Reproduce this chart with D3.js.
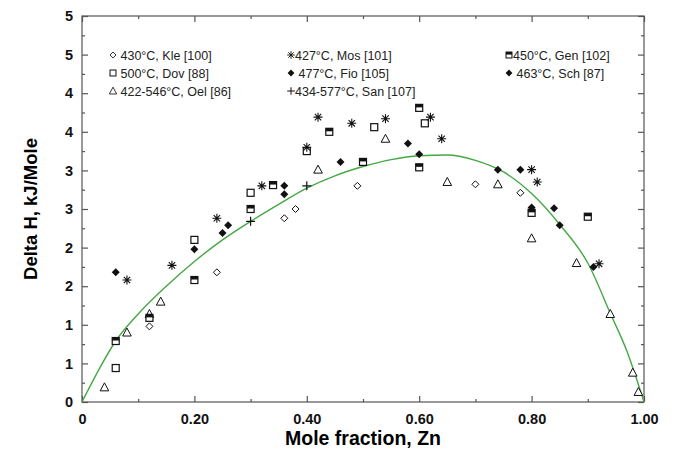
<!DOCTYPE html>
<html>
<head>
<meta charset="utf-8">
<script src="https://cdn.jsdelivr.net/npm/d3@7"></script>
<style>
  body { margin: 0; background: #fff; }
  text { font-family: "Liberation Sans", Arial, sans-serif; }
</style>
</head>
<body>
<svg id="chart" width="673" height="455"></svg>
<script>
// fitted curve
const curveX = [0, 0.03, 0.06, 0.10, 0.15, 0.20, 0.25, 0.30, 0.35, 0.40, 0.45, 0.50, 0.55, 0.60, 0.65, 0.70, 0.75, 0.80, 0.85, 0.90, 0.94, 0.97, 1.0];
const curveY = [0, 0.42, 0.79, 1.14, 1.50, 1.82, 2.10, 2.34, 2.56, 2.77, 2.93, 3.05, 3.14, 3.19, 3.20, 3.13, 2.98, 2.70, 2.30, 1.80, 1.15, 0.65, 0];

// measured points, [mole fraction, delta H]
const klePts = [[0.12, 0.98], [0.24, 1.68], [0.36, 2.38], [0.38, 2.50], [0.49, 2.80], [0.70, 2.82], [0.78, 2.71]];
const mosPts = [[0.08, 1.58], [0.16, 1.77], [0.24, 2.38], [0.32, 2.80], [0.40, 3.30], [0.42, 3.69], [0.48, 3.61], [0.54, 3.67], [0.62, 3.69], [0.64, 3.41], [0.80, 3.01], [0.81, 2.85], [0.92, 1.79]];
const genPts = [[0.06, 0.79], [0.12, 1.09], [0.20, 1.58], [0.30, 2.50], [0.34, 2.81], [0.44, 3.50], [0.50, 3.11], [0.60, 3.81], [0.60, 3.04], [0.80, 2.45], [0.90, 2.40]];
const dovPts = [[0.06, 0.44], [0.20, 2.10], [0.30, 2.71], [0.40, 3.25], [0.52, 3.56], [0.61, 3.61]];
const fioPts = [[0.25, 2.19], [0.36, 2.80], [0.46, 3.11], [0.58, 3.35], [0.74, 3.01], [0.78, 3.01]];
const schPts = [[0.06, 1.68], [0.20, 1.98], [0.26, 2.29], [0.36, 2.69], [0.60, 3.21], [0.80, 2.52], [0.84, 2.51], [0.85, 2.29], [0.91, 1.75]];
const oelPts = [[0.04, 0.19], [0.08, 0.90], [0.12, 1.14], [0.14, 1.30], [0.42, 3.01], [0.54, 3.41], [0.65, 2.85], [0.74, 2.82], [0.80, 2.12], [0.88, 1.80], [0.94, 1.14], [0.98, 0.38], [0.99, 0.13]];
const sanPts = [[0.30, 2.34], [0.40, 2.80]];

const xTicks = [0, 0.2, 0.4, 0.6, 0.8, 1.0];
const xTickLabels = ["0", "0.20", "0.40", "0.60", "0.80", "1.00"];
const yTicks = [0, 0.5, 1, 1.5, 2, 2.5, 3, 3.5, 4, 4.5, 5];

const legendLabels = [
  ["kle", " 430\u00B0C, Kle [100]"], ["mos", "427\u00B0C, Mos [101]"], ["gen", "450\u00B0C, Gen [102]"],
  ["dov", " 500\u00B0C, Dov [88]"], ["fio", " 477\u00B0C, Fio [105]"], ["sch", " 463\u00B0C, Sch [87]"],
  ["oel", " 422-546\u00B0C, Oel [86]"], ["san", "434-577\u00B0C, San [107]"]
];

const LEFT = 82, RIGHT = 644, TOP = 16, BOTTOM = 402;
const AXIS = "#555";

const svg = d3.select("#chart");

const x = d3.scaleLinear().domain([0, 1]).range([LEFT, RIGHT]);
const y = d3.scaleLinear().domain([0, 5]).range([BOTTOM, TOP]);

// frame
svg.append("rect")
  .attr("x", LEFT).attr("y", TOP)
  .attr("width", RIGHT - LEFT).attr("height", BOTTOM - TOP)
  .attr("fill", "none").attr("stroke", AXIS).attr("stroke-width", 1.2);

// axes with inward ticks
function tickAxis(axis, transform) {
  const g = svg.append("g").attr("transform", transform).call(axis);
  g.select(".domain").remove();
  g.selectAll("line").attr("stroke", AXIS).attr("stroke-width", 1.2);
  return g;
}

// minor ticks
tickAxis(d3.axisBottom(x).tickValues(d3.range(0.1, 1, 0.2)).tickSize(-3).tickFormat(""), `translate(0,${BOTTOM})`);
tickAxis(d3.axisTop(x).tickValues(d3.range(0.1, 1, 0.2)).tickSize(-3).tickFormat(""), `translate(0,${TOP})`);
tickAxis(d3.axisLeft(y).tickValues(d3.range(0.25, 5, 0.5)).tickSize(-3).tickFormat(""), `translate(${LEFT},0)`);
tickAxis(d3.axisRight(y).tickValues(d3.range(0.25, 5, 0.5)).tickSize(-3).tickFormat(""), `translate(${RIGHT},0)`);

// major ticks
const gx = tickAxis(d3.axisBottom(x).tickValues(xTicks).tickSize(-6).tickPadding(12)
  .tickFormat((d, i) => xTickLabels[i]), `translate(0,${BOTTOM})`);
tickAxis(d3.axisTop(x).tickValues(xTicks).tickSize(-6).tickFormat(""), `translate(0,${TOP})`);
const gy = tickAxis(d3.axisLeft(y).tickValues(yTicks).tickSize(-6).tickPadding(9)
  .tickFormat(d => Math.round(d)), `translate(${LEFT},0)`);
tickAxis(d3.axisRight(y).tickValues(yTicks).tickSize(-6).tickFormat(""), `translate(${RIGHT},0)`);

[gx, gy].forEach(g => g.selectAll("text")
  .attr("fill", "#111").style("font-size", "14.5px").style("font-weight", "bold")
  .style("font-family", "'Liberation Sans', Arial, sans-serif"));

// axis titles
svg.append("text")
  .attr("x", (LEFT + RIGHT) / 2).attr("y", 445)
  .attr("text-anchor", "middle")
  .style("font-size", "19.5px").style("font-weight", "bold")
  .text("Mole fraction, Zn");

svg.append("text")
  .attr("transform", `translate(37,${(TOP + BOTTOM) / 2}) rotate(-90)`)
  .attr("text-anchor", "middle")
  .style("font-size", "18.5px").style("font-weight", "bold")
  .text("Delta H, kJ/Mole");

// fitted curve
const line = d3.line().x(d => x(d[0])).y(d => y(d[1])).curve(d3.curveMonotoneX);
svg.append("path")
  .datum(curveX.map((v, i) => [v, curveY[i]]))
  .attr("d", line)
  .attr("fill", "none").attr("stroke", "#43a843").attr("stroke-width", 1.4);

// marker painters
function drawMarker(g, kind) {
  const ink = "#111";
  if (kind === "kle") {
    g.append("path").attr("d", "M0,-3.5L3.5,0L0,3.5L-3.5,0Z").attr("fill", "#fff").attr("stroke", ink).attr("stroke-width", 1);
  } else if (kind === "fio" || kind === "sch") {
    g.append("path").attr("d", "M0,-4L4,0L0,4L-4,0Z").attr("fill", ink);
  } else if (kind === "dov") {
    g.append("rect").attr("x", -3.5).attr("y", -3.5).attr("width", 7).attr("height", 7)
      .attr("fill", "#fff").attr("stroke", ink).attr("stroke-width", 1.2);
  } else if (kind === "gen") {
    g.append("rect").attr("x", -3.5).attr("y", -3.5).attr("width", 7).attr("height", 7)
      .attr("fill", "#fff").attr("stroke", ink).attr("stroke-width", 1.2);
    g.append("rect").attr("x", -3.5).attr("y", -3.5).attr("width", 7).attr("height", 3)
      .attr("fill", ink);
  } else if (kind === "oel") {
    g.append("path").attr("d", "M0,-4.5L4.3,3.5L-4.3,3.5Z").attr("fill", "#fff").attr("stroke", ink).attr("stroke-width", 1);
  } else if (kind === "san") {
    g.append("path").attr("d", "M-4.5,0H4.5M0,-4.5V4.5").attr("stroke", ink).attr("stroke-width", 1.2);
  } else if (kind === "mos") {
    g.append("path").attr("d", "M-4.5,0H4.5M0,-4.5V4.5M-3.2,-3.2L3.2,3.2M-3.2,3.2L3.2,-3.2")
      .attr("stroke", ink).attr("stroke-width", 1.1);
  }
}

const series = [
  ["kle", klePts], ["dov", dovPts], ["oel", oelPts], ["gen", genPts],
  ["mos", mosPts], ["fio", fioPts], ["sch", schPts], ["san", sanPts]
];

series.forEach(([kind, pts]) => {
  svg.append("g").attr("class", kind)
    .selectAll("g").data(pts).enter().append("g")
    .attr("transform", d => `translate(${x(d[0])},${y(d[1])})`)
    .each(function() { drawMarker(d3.select(this), kind); });
});

// legend, three columns
const colX = [113, 291, 509];
const rowY = [55, 73, 91];
legendLabels.forEach(([kind, label], i) => {
  const cx = colX[i % 3], cy = rowY[Math.floor(i / 3)];
  const g = svg.append("g").attr("transform", `translate(${cx},${cy})`);
  drawMarker(g.append("g").attr("transform", "scale(0.85)"), kind);
  g.append("text")
    .attr("x", 4).attr("y", 4.5)
    .attr("xml:space", "preserve").style("white-space", "pre")
    .style("font-size", "12.5px").attr("fill", "#222")
    .text(label);
});
</script>
</body>
</html>
